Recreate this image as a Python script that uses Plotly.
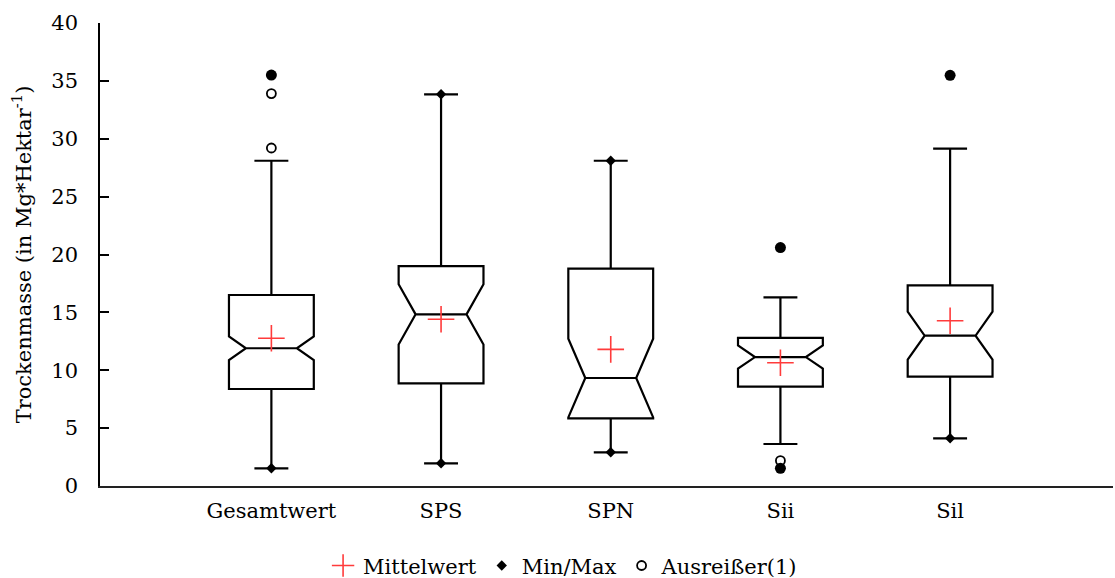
import plotly.graph_objects as go

# Groups
categories = ["Gesamtwert", "SPS", "SPN", "Sii", "Sil"]

# Box statistics per group (Mg/ha)
q1 = [8.38, 8.87, 5.84, 8.58, 9.45]
median = [11.9, 14.83, 9.33, 11.14, 12.99]
q3 = [16.5, 19.0, 18.78, 12.79, 17.34]
lower_whisker = [1.53, 1.96, 2.91, 3.63, 4.12]
upper_whisker = [28.1, 33.84, 28.1, 16.3, 29.14]
notch_span = [1.03, 2.6, 3.4, 1.0, 2.08]
mean = [12.76, 14.4, 11.8, 10.65, 14.28]

# Minimum / maximum values lying on the whisker ends
minmax_cat = ["Gesamtwert", "SPS", "SPS", "SPN", "SPN", "Sil"]
minmax_val = [1.53, 1.96, 33.84, 2.91, 28.1, 4.12]

# Outliers
outlier_cat = ["Gesamtwert", "Gesamtwert", "Sii"]
outlier_val = [33.9, 29.2, 2.19]

# Minimum / maximum values that are also outliers
extreme_cat = ["Gesamtwert", "Sii", "Sii", "Sil"]
extreme_val = [35.5, 20.6, 1.53, 35.48]

FONT = "DejaVu Serif"
FS = 21
RED = "#FF3B3B"

fig = go.Figure()

fig.add_trace(go.Box(
    x=categories,
    q1=q1, median=median, q3=q3,
    lowerfence=lower_whisker, upperfence=upper_whisker,
    notchspan=notch_span, notched=True, notchwidth=0.2,
    width=0.5, whiskerwidth=0.4,
    boxpoints=False,
    line=dict(color="black", width=2.2),
    fillcolor="rgba(255,255,255,0)",
    showlegend=False, hoverinfo="skip",
))

fig.add_trace(go.Scatter(
    x=categories, y=mean, mode="markers", name="Mittelwert",
    marker=dict(symbol="cross-thin", size=19, color=RED,
                line=dict(color=RED, width=1.6)),
))

fig.add_trace(go.Scatter(
    x=minmax_cat, y=minmax_val, mode="markers", name="Min/Max",
    marker=dict(symbol="diamond", size=8, color="black"),
))

fig.add_trace(go.Scatter(
    x=outlier_cat, y=outlier_val, mode="markers", name="Ausreißer(1)",
    marker=dict(symbol="circle-open", size=9, color="black",
                line=dict(color="black", width=1.8)),
))

fig.add_trace(go.Scatter(
    x=extreme_cat, y=extreme_val, mode="markers", showlegend=False,
    marker=dict(symbol="circle", size=11, color="black"),
))

fig.update_layout(
    width=1115, height=578,
    margin=dict(l=100, r=2, t=23, b=92),
    paper_bgcolor="white", plot_bgcolor="white",
    font=dict(family=FONT, size=FS, color="black"),
    legend=dict(
        orientation="h", xref="container", yref="container",
        x=0.505, xanchor="center", y=0.021, yanchor="middle",
        font=dict(family=FONT, size=FS), itemwidth=30,
    ),
)

fig.update_xaxes(
    type="category", categoryorder="array", categoryarray=categories,
    range=[-1.01, 4.96],
    showline=True, linecolor="#222", linewidth=2,
    ticks="", showgrid=False, zeroline=False,
    ticklabelstandoff=5,
    tickfont=dict(family=FONT, size=FS),
)

fig.update_yaxes(
    range=[0, 40], dtick=5, tick0=0,
    showline=True, linecolor="black", linewidth=1.5,
    ticks="inside", ticklen=9, tickwidth=1.5, tickcolor="black",
    ticklabelstandoff=16,
    showgrid=False, zeroline=False,
    tickfont=dict(family=FONT, size=FS),
    title=dict(text="Trockenmasse (in Mg*Hektar<sup>-1</sup>)",
               font=dict(family=FONT, size=FS), standoff=14),
)

fig.write_html("out.html")
